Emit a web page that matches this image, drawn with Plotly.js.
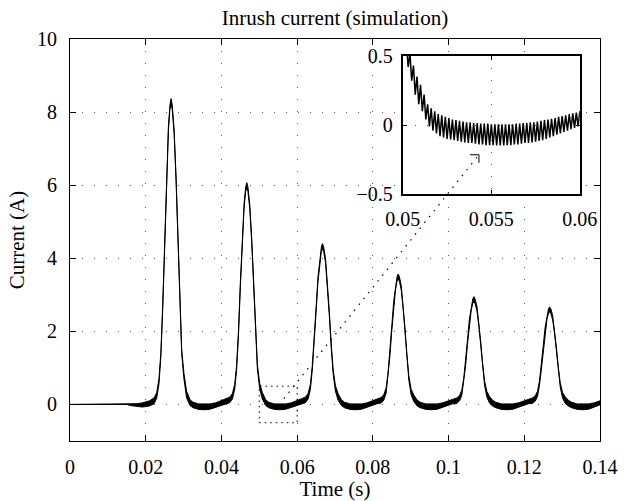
<!DOCTYPE html>
<html><head><meta charset="utf-8">
<script src="https://cdn.plot.ly/plotly-3.0.1.min.js"></script>
<style>html,body{margin:0;padding:0;background:#fff}#chart{width:624px;height:501px}</style>
</head><body><div id="chart"></div>
<script>
// ---- main signal: time, upper and lower edge of the ripple band ----
const timeMain = [0,0.0150,0.0160,0.0175,0.0190,0.0200,0.0210,
 0.0222,0.0229,0.0235,0.0240,0.0245,0.0250,0.0255,0.0260,0.0264,0.0267,0.0270,0.0275,0.0280,0.0285,0.0290,0.0295,0.0301,0.0308,0.0317,
 0.0325,0.0340,0.0355,0.0370,0.0385,0.0400,0.0411,
 0.0422,0.0429,0.0435,0.0440,0.0445,0.0450,0.0455,0.0460,0.0464,0.0467,0.0470,0.0475,0.0480,0.0485,0.0490,0.0495,0.0501,0.0508,0.0517,
 0.0525,0.0540,0.0555,0.0570,0.0585,0.0600,0.0611,
 0.0622,0.0629,0.0635,0.0640,0.0645,0.0650,0.0655,0.0660,0.0664,0.0667,0.0670,0.0675,0.0680,0.0685,0.0690,0.0695,0.0701,0.0708,0.0717,
 0.0725,0.0740,0.0755,0.0770,0.0785,0.0800,0.0811,
 0.0822,0.0829,0.0835,0.0840,0.0845,0.0850,0.0855,0.0860,0.0864,0.0867,0.0870,0.0875,0.0880,0.0885,0.0890,0.0895,0.0901,0.0908,0.0917,
 0.0925,0.0940,0.0955,0.0970,0.0985,0.1000,0.1011,
 0.1022,0.1029,0.1035,0.1040,0.1045,0.1050,0.1055,0.1060,0.1064,0.1067,0.1070,0.1075,0.1080,0.1085,0.1090,0.1095,0.1101,0.1108,0.1117,
 0.1125,0.1140,0.1155,0.1170,0.1185,0.1200,0.1211,
 0.1222,0.1229,0.1235,0.1240,0.1245,0.1250,0.1255,0.1260,0.1264,0.1267,0.1270,0.1275,0.1280,0.1285,0.1290,0.1295,0.1301,0.1308,0.1317,
 0.1325,0.1340,0.1355,0.1370,0.1385,0.1400];
const currentUpper = [0,0,0.01,0.02,0.04,0.06,0.10,
 0.18,0.32,0.70,1.42,2.76,4.60,6.36,7.62,8.20,8.37,8.20,7.53,6.28,4.52,2.76,1.51,0.85,0.36,0.13,
 0.06,0.015,0.005,0.015,0.045,0.10,0.15,
 0.20,0.30,0.55,1.05,2.00,3.34,4.61,5.52,5.95,6.07,5.95,5.46,4.55,3.28,2.00,1.09,0.58,0.33,0.13,
 0.06,0.015,0.005,0.015,0.045,0.10,0.15,
 0.20,0.30,0.55,1.06,1.76,2.64,3.48,4.05,4.31,4.40,4.31,4.00,3.39,2.55,1.67,0.97,0.52,0.30,0.13,
 0.06,0.015,0.005,0.015,0.045,0.10,0.15,
 0.19,0.27,0.45,0.86,1.43,2.14,2.82,3.28,3.50,3.57,3.50,3.25,2.75,2.07,1.36,0.79,0.42,0.26,0.12,
 0.06,0.015,0.005,0.015,0.045,0.10,0.15,
 0.18,0.25,0.39,0.71,1.18,1.77,2.33,2.71,2.89,2.95,2.89,2.68,2.27,1.71,1.12,0.65,0.36,0.22,0.11,
 0.06,0.015,0.005,0.015,0.045,0.10,0.15,
 0.18,0.24,0.36,0.64,1.07,1.60,2.11,2.46,2.62,2.67,2.62,2.43,2.06,1.55,1.01,0.59,0.33,0.21,0.11,
 0.06,0.015,0.005,0.015,0.045,0.10];
const currentLower = [0,0,-0.03,-0.06,-0.07,-0.06,-0.04,
 0.02,0.17,0.56,1.30,2.64,4.48,6.24,7.50,8.08,8.22,8.08,7.41,6.16,4.40,2.64,1.39,0.70,0.18,-0.03,
 -0.09,-0.135,-0.145,-0.13,-0.08,-0.01,0.02,
 0.05,0.15,0.41,0.93,1.88,3.22,4.49,5.40,5.83,5.92,5.83,5.34,4.43,3.16,1.88,0.97,0.43,0.15,-0.03,
 -0.09,-0.135,-0.145,-0.13,-0.08,-0.01,0.02,
 0.05,0.15,0.41,0.94,1.64,2.52,3.36,3.93,4.19,4.25,4.19,3.88,3.27,2.43,1.55,0.85,0.37,0.12,-0.03,
 -0.09,-0.135,-0.145,-0.13,-0.08,-0.01,0.02,
 0.04,0.12,0.31,0.74,1.31,2.02,2.70,3.16,3.38,3.42,3.38,3.13,2.63,1.95,1.24,0.67,0.27,0.08,-0.04,
 -0.09,-0.135,-0.145,-0.13,-0.08,-0.01,0.02,
 0.03,0.10,0.25,0.59,1.06,1.65,2.21,2.59,2.77,2.80,2.77,2.56,2.15,1.59,1.00,0.53,0.21,0.04,-0.05,
 -0.09,-0.135,-0.145,-0.13,-0.08,-0.01,0.02,
 0.03,0.09,0.22,0.52,0.95,1.48,1.99,2.34,2.50,2.52,2.50,2.31,1.94,1.43,0.89,0.47,0.18,0.03,-0.05,
 -0.09,-0.135,-0.145,-0.13,-0.08,-0.01];

// ---- inset (zoom 0.05 .. 0.06 s): ripple samples ----
const insetTime = [0.0500,0.0501,0.0502,0.0503,0.0504,0.0505,0.0506,0.0507,0.0508,0.0509,
 0.0510,0.0511,0.0512,0.0513,0.0514,0.0515,0.0516,0.0517,0.0518,0.0519,
 0.0520,0.0521,0.0522,0.0523,0.0524,0.0525,0.0526,0.0527,0.0528,0.0529,
 0.0530,0.0531,0.0532,0.0533,0.0534,0.0535,0.0536,0.0537,0.0538,0.0539,
 0.0540,0.0541,0.0542,0.0543,0.0544,0.0545,0.0546,0.0547,0.0548,0.0549,
 0.0550,0.0551,0.0552,0.0553,0.0554,0.0555,0.0556,0.0557,0.0558,0.0559,
 0.0560,0.0561,0.0562,0.0563,0.0564,0.0565,0.0566,0.0567,0.0568,0.0569,
 0.0570,0.0571,0.0572,0.0573,0.0574,0.0575,0.0576,0.0577,0.0578,0.0579,
 0.0580,0.0581,0.0582,0.0583,0.0584,0.0585,0.0586,0.0587,0.0588,0.0589,
 0.0590,0.0591,0.0592,0.0593,0.0594,0.0595,0.0596,0.0597,0.0598,0.0599,0.0600];
const insetCurrent = [0.70,0.52,0.60,0.42,0.52,0.32,0.43,0.22,0.35,0.15,
 0.29,0.10,0.22,0.04,0.15,-0.01,0.12,-0.04,0.10,-0.06,
 0.08,-0.08,0.07,-0.09,0.06,-0.10,0.05,-0.105,0.04,-0.11,
 0.035,-0.115,0.03,-0.12,0.025,-0.125,0.02,-0.13,0.02,-0.13,
 0.015,-0.135,0.015,-0.14,0.01,-0.14,0.01,-0.145,0.01,-0.145,
 0.005,-0.145,0.005,-0.148,0.005,-0.148,0.005,-0.148,0.005,-0.145,
 0.005,-0.145,0.005,-0.14,0.01,-0.14,0.01,-0.135,0.015,-0.13,
 0.015,-0.13,0.02,-0.125,0.02,-0.12,0.025,-0.115,0.03,-0.11,
 0.035,-0.10,0.04,-0.09,0.045,-0.08,0.05,-0.07,0.06,-0.06,
 0.065,-0.05,0.07,-0.04,0.08,-0.03,0.085,-0.02,0.09,-0.01,0.10];

const insetXTicks = [0.05, 0.055, 0.06];
const insetXLabels = ['0.05', '0.055', '0.06'];
const insetYTicks = [-0.5, 0, 0.5];
const insetYLabels = ['\u22120.5', '0', '0.5'];
const zoomBox = {x0: 0.05, x1: 0.06, y0: -0.5, y1: 0.5};
const arrowTail = {t: 0.0565, v: 0.16};     // main-axis coords
const arrowTip  = {t: 0.0543, v: -0.215};   // inset-axis coords

// ---- layout geometry ----
const W = 624, H = 501, M = {l: 70, r: 24, t: 39, b: 60};
const PW = W - M.l - M.r, PH = H - M.t - M.b;
const mainX = [0, 0.14], mainY = [-1, 10];
const insetDomX = [0.628, 0.962], insetDomY = [0.614, 0.958];
const insetRX = [0.05, 0.06], insetRY = [-0.5, 0.5];

function mainToPaper(t, v) {
  return [(t - mainX[0]) / (mainX[1] - mainX[0]), (v - mainY[0]) / (mainY[1] - mainY[0])];
}
function insetToPaper(t, v) {
  return [insetDomX[0] + (t - insetRX[0]) / (insetRX[1] - insetRX[0]) * (insetDomX[1] - insetDomX[0]),
          insetDomY[0] + (v - insetRY[0]) / (insetRY[1] - insetRY[0]) * (insetDomY[1] - insetDomY[0])];
}
const tail = mainToPaper(arrowTail.t, arrowTail.v);
const tip = insetToPaper(arrowTip.t, arrowTip.v);
const barbX = 9 / PW, barbY = 8 / PH;

const FONT = 'Liberation Serif, Times New Roman, serif';
const gridStyle = {showgrid: true, gridcolor: '#555', gridwidth: 1, griddash: '1px,11px'};

const traces = [
  {x: timeMain, y: currentUpper, xaxis: 'x', yaxis: 'y', mode: 'lines',
   line: {color: '#000', width: 1.0}, hoverinfo: 'skip', showlegend: false},
  {x: timeMain, y: currentLower, xaxis: 'x', yaxis: 'y', mode: 'lines', fill: 'tonexty',
   fillcolor: '#000', line: {color: '#000', width: 1.0}, hoverinfo: 'skip', showlegend: false},
  {x: insetTime, y: insetCurrent, xaxis: 'x2', yaxis: 'y2', mode: 'lines',
   line: {color: '#000', width: 1.5}, hoverinfo: 'skip', showlegend: false}
];

const layout = {
  width: W, height: H,
  margin: M,
  paper_bgcolor: '#fff', plot_bgcolor: '#fff',
  font: {family: FONT, size: 20, color: '#000'},
  title: {text: 'Inrush current (simulation)', font: {family: FONT, size: 21, color: '#000'},
          x: 0.5, xref: 'paper', xanchor: 'center', y: 1 - 18 / H, yref: 'container', yanchor: 'middle'},
  xaxis: Object.assign({domain: [0, 1], range: mainX, tick0: 0, dtick: 0.02, anchor: 'y',
    ticks: 'inside', ticklen: 6, tickcolor: '#000', tickwidth: 1,
    showline: true, mirror: 'ticks', linecolor: '#000', linewidth: 1, zeroline: false,
    tickfont: {size: 20}, ticklabelstandoff: 8,
    title: {text: 'Time (s)', font: {size: 21}, standoff: 10}}, gridStyle),
  yaxis: Object.assign({domain: [0, 1], range: mainY, tick0: 0, dtick: 2, anchor: 'x',
    ticks: 'inside', ticklen: 6, tickcolor: '#000', tickwidth: 1,
    showline: true, mirror: 'ticks', linecolor: '#000', linewidth: 1, zeroline: false,
    tickfont: {size: 20}, ticklabelstandoff: 8,
    title: {text: 'Current (A)', font: {size: 21}, standoff: 6}}, gridStyle),
  xaxis2: Object.assign({domain: insetDomX, range: insetRX, anchor: 'y2',
    tickmode: 'array', tickvals: insetXTicks, ticktext: insetXLabels,
    ticks: 'inside', ticklen: 4, tickcolor: '#000',
    showline: true, mirror: 'ticks', linecolor: '#000', linewidth: 2, zeroline: false,
    tickfont: {size: 20}, ticklabelstandoff: 6}, gridStyle),
  yaxis2: Object.assign({domain: insetDomY, range: insetRY, anchor: 'x2',
    tickmode: 'array', tickvals: insetYTicks, ticktext: insetYLabels,
    ticks: 'inside', ticklen: 4, tickcolor: '#000',
    showline: true, mirror: 'ticks', linecolor: '#000', linewidth: 2, zeroline: false,
    tickfont: {size: 20}, ticklabelstandoff: 4}, gridStyle),
  shapes: [
    {type: 'rect', xref: 'x', yref: 'y', x0: zoomBox.x0, x1: zoomBox.x1, y0: zoomBox.y0, y1: zoomBox.y1,
     line: {color: '#000', width: 1, dash: '1.5px,4px'}, fillcolor: 'rgba(0,0,0,0)', layer: 'above'},
    {type: 'line', xref: 'paper', yref: 'paper', x0: tail[0], y0: tail[1], x1: tip[0], y1: tip[1],
     line: {color: '#000', width: 1.2, dash: '1.5px,6px'}, layer: 'above'},
    {type: 'path', xref: 'paper', yref: 'paper',
     path: 'M' + (tip[0] - barbX) + ',' + tip[1] + ' L' + tip[0] + ',' + tip[1] + ' L' + tip[0] + ',' + (tip[1] - barbY),
     line: {color: '#000', width: 1}, layer: 'above'}
  ]
};

Plotly.newPlot('chart', traces, layout, {displayModeBar: false, staticPlot: true});
</script>
</body></html>
